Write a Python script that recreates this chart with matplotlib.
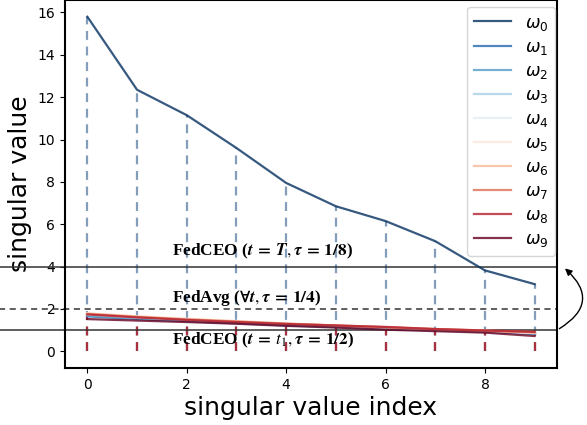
import matplotlib
matplotlib.use("Agg")
import matplotlib.pyplot as plt
import numpy as np

idx = list(range(10))
w0 = [15.8, 12.35, 11.15, 9.6, 7.95, 6.85, 6.15, 5.2, 3.82, 3.17]
w1 = [1.65, 1.52, 1.42, 1.32, 1.22, 1.14, 1.06, 0.98, 0.92, 0.82]
w2 = [1.68, 1.55, 1.45, 1.35, 1.25, 1.16, 1.08, 1.00, 0.93, 0.83]
w3 = [1.72, 1.58, 1.48, 1.38, 1.28, 1.19, 1.10, 1.02, 0.95, 0.85]
w4 = [1.75, 1.62, 1.50, 1.40, 1.30, 1.20, 1.12, 1.03, 0.96, 0.86]
w5 = [1.80, 1.66, 1.54, 1.43, 1.32, 1.22, 1.13, 1.04, 0.97, 0.87]
w6 = [1.78, 1.64, 1.52, 1.42, 1.31, 1.21, 1.13, 1.04, 0.97, 0.88]
w7 = [1.76, 1.62, 1.50, 1.40, 1.30, 1.22, 1.14, 1.05, 0.98, 0.90]
w8 = [1.74, 1.60, 1.48, 1.38, 1.29, 1.22, 1.15, 1.05, 0.98, 0.92]
w9 = [1.52, 1.45, 1.38, 1.30, 1.20, 1.12, 1.02, 0.95, 0.88, 0.72]
series = [w0, w1, w2, w3, w4, w5, w6, w7, w8, w9]
labels = [r"$\omega_{%d}$" % i for i in range(10)]
thresholds = [4, 2, 1]

fig = plt.figure(figsize=(5.87, 4.25), dpi=100)
ax = fig.add_axes([65/587, 1-368/425, 492/587, 368/425])

cmap = plt.get_cmap("RdBu_r")
colors = [cmap(i/9) for i in range(10)]

# stems
ax.vlines(idx, 0, w0, colors="#849dbb", linestyles=(0, (4, 3)), lw=1.6, zorder=1)
ax.vlines(idx, 0, w8, colors="#a8303f", linestyles=(0, (4, 3)), lw=1.6, zorder=1)

for s, c, l in zip(series, colors, labels):
    ax.plot(idx, s, color=c, alpha=0.8, lw=1.6, label=l, zorder=3)

ax.axhline(thresholds[0], xmin=-0.135, xmax=1, color="#333333", lw=1.1, clip_on=False, zorder=2)
ax.axhline(thresholds[1], xmin=-0.135, xmax=1, color="#333333", lw=1.1, ls=(0, (4, 3)), clip_on=False, zorder=2)
ax.axhline(thresholds[2], xmin=-0.135, xmax=1, color="#333333", lw=1.1, clip_on=False, zorder=2)

tkw = dict(fontsize=12.4, fontweight="bold", family="Liberation Serif", math_fontfamily="stix", zorder=5)
ax.text(1.7, 4.7, r"FedCEO ($\boldsymbol{t}\;\boldsymbol{=}\;\boldsymbol{T},\boldsymbol{\tau}\;\boldsymbol{=}\;\mathbf{1/8}$)", va="center", **tkw)
ax.text(1.7, 2.5, r"FedAvg ($\boldsymbol{\forall t},\boldsymbol{\tau}\;\boldsymbol{=}\;\mathbf{1/4}$)", va="center", **tkw)
ax.text(1.7, 0.5, r"FedCEO ($\boldsymbol{t}\;\boldsymbol{=}\;\boldsymbol{t_1},\boldsymbol{\tau}\;\boldsymbol{=}\;\mathbf{1/2}$)", va="center", **tkw)

ax.annotate("", xy=(1.012, (4 + 0.79)/17.38), xycoords="axes fraction",
            xytext=(1.0, (1 + 0.79)/17.38), textcoords="axes fraction",
            arrowprops=dict(arrowstyle="-|>", connectionstyle="arc3,rad=0.7", color="black", lw=1.0),
            annotation_clip=False)

ax.set_xlim(-0.45, 9.45)
ax.set_ylim(-0.79, 16.59)
ax.set_xticks([0, 2, 4, 6, 8])
ax.set_yticks([0, 2, 4, 6, 8, 10, 12, 14, 16])
ax.tick_params(labelsize=10)
for sp in ax.spines.values():
    sp.set_linewidth(1.5)
ax.set_xlabel("singular value index", fontsize=18, labelpad=3)
ax.set_ylabel("singular value", fontsize=18)

ax.legend(loc="upper right", bbox_to_anchor=(0.996, 0.982), borderaxespad=0,
          fontsize=12.5, labelspacing=0.29, handlelength=2.1)

fig.savefig("out.png", dpi=100)
